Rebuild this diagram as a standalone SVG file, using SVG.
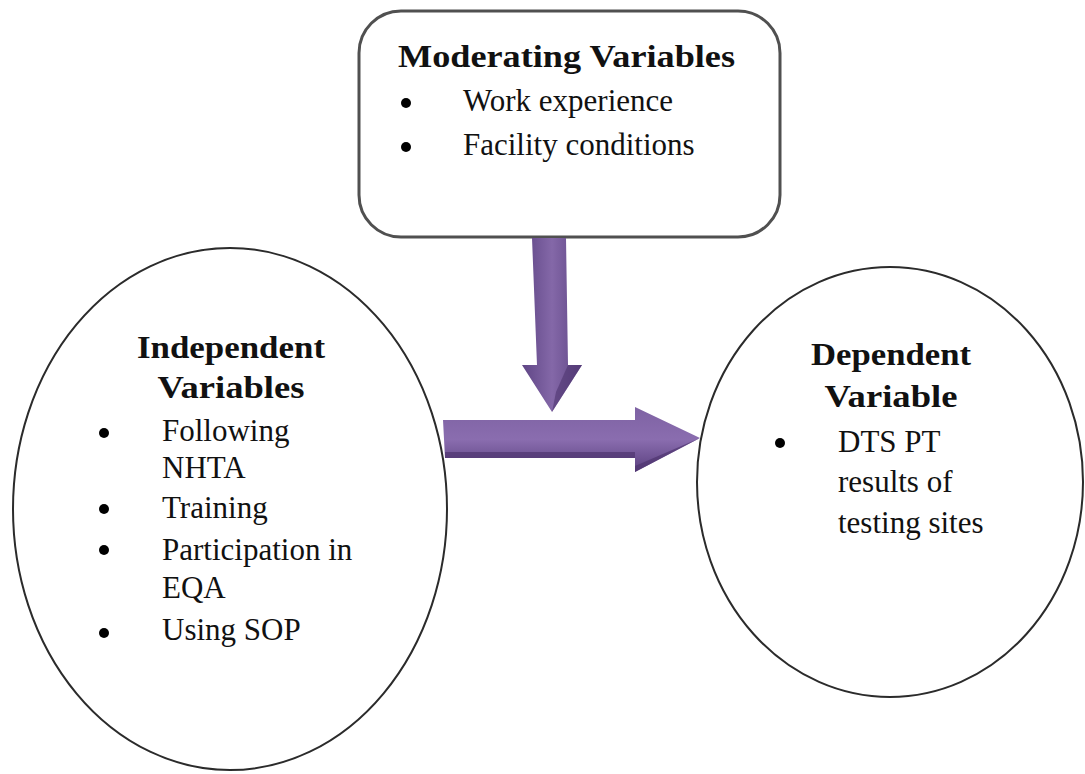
<svg xmlns="http://www.w3.org/2000/svg" width="1085" height="774" viewBox="0 0 1085 774">
  <defs>
    <linearGradient id="shaftV" x1="0" y1="0" x2="1" y2="0">
      <stop offset="0" stop-color="#5f4585"/>
      <stop offset="0.5" stop-color="#8468a8"/>
      <stop offset="1" stop-color="#5f4585"/>
    </linearGradient>
    <linearGradient id="shaftH" x1="0" y1="0" x2="0" y2="1">
      <stop offset="0" stop-color="#7e62a3"/>
      <stop offset="0.5" stop-color="#8a6daf"/>
      <stop offset="1" stop-color="#5a3f7e"/>
    </linearGradient>
    <style>
      .frame { fill: #ffffff; stroke: #2b2b2b; stroke-width: 2; }
      .box { fill: #ffffff; stroke: #505050; stroke-width: 3; }
      .title { font-family: "Liberation Serif", "Times New Roman", serif; font-weight: bold; font-size: 32px; fill: #111; }
      .item { font-family: "Liberation Serif", "Times New Roman", serif; font-size: 31px; fill: #111; }
      .dot { fill: #000; }
    </style>
  </defs>

  <rect width="1085" height="774" fill="#ffffff"/>

  <!-- Moderating variables box -->
  <g id="moderating">
    <rect class="box" x="359" y="11" width="421" height="226" rx="42" ry="42"/>
    <text class="title" x="398" y="67" textLength="337" lengthAdjust="spacingAndGlyphs">Moderating Variables</text>
    <circle class="dot" cx="406" cy="103" r="5"/>
    <text class="item" x="463" y="111">Work experience</text>
    <circle class="dot" cx="406" cy="147" r="5"/>
    <text class="item" x="463" y="155">Facility conditions</text>
  </g>

  <!-- Independent variables ellipse -->
  <g id="independent">
    <ellipse class="frame" cx="230" cy="509" rx="217" ry="261"/>
    <text class="title" x="231" y="358" text-anchor="middle" textLength="188" lengthAdjust="spacingAndGlyphs">Independent</text>
    <text class="title" x="231" y="398" text-anchor="middle" textLength="147" lengthAdjust="spacingAndGlyphs">Variables</text>
    <circle class="dot" cx="104" cy="433" r="5"/>
    <text class="item" x="162" y="441">Following</text>
    <text class="item" x="162" y="478">NHTA</text>
    <circle class="dot" cx="104" cy="509" r="5"/>
    <text class="item" x="162" y="518">Training</text>
    <circle class="dot" cx="104" cy="550" r="5"/>
    <text class="item" x="162" y="560">Participation in</text>
    <text class="item" x="162" y="598">EQA</text>
    <circle class="dot" cx="104" cy="633" r="5"/>
    <text class="item" x="162" y="640">Using SOP</text>
  </g>

  <!-- Dependent variable ellipse -->
  <g id="dependent">
    <ellipse class="frame" cx="890" cy="482" rx="193" ry="215"/>
    <text class="title" x="891" y="365" text-anchor="middle" textLength="160" lengthAdjust="spacingAndGlyphs">Dependent</text>
    <text class="title" x="891" y="407" text-anchor="middle" textLength="133" lengthAdjust="spacingAndGlyphs">Variable</text>
    <circle class="dot" cx="780" cy="443" r="5"/>
    <text class="item" x="838" y="452">DTS PT</text>
    <text class="item" x="838" y="492">results of</text>
    <text class="item" x="838" y="533">testing sites</text>
  </g>

  <!-- Connectors: block arrows -->
  <g id="connectors">
    <!-- moderating effect, pointing down -->
    <path d="M532,238 L566,238 L568,365 L582,365 L552,412 L522,365 L537,365 Z" fill="url(#shaftV)"/>
    <path d="M568,365 L582,365 L552,412 L556,392 Z" fill="#4f356f" opacity="0.6"/>
    <!-- independent to dependent, pointing right -->
    <path d="M443,420 L635,420 L635,407 L700,438 L635,472 L635,458 L445,458 Z" fill="url(#shaftH)"/>
    <path d="M445,452 L635,452 L635,458 L445,458 Z" fill="#4f356f" opacity="0.7"/>
    <path d="M635,466 L700,438 L635,472 Z" fill="#4f356f" opacity="0.7"/>
  </g>
</svg>
